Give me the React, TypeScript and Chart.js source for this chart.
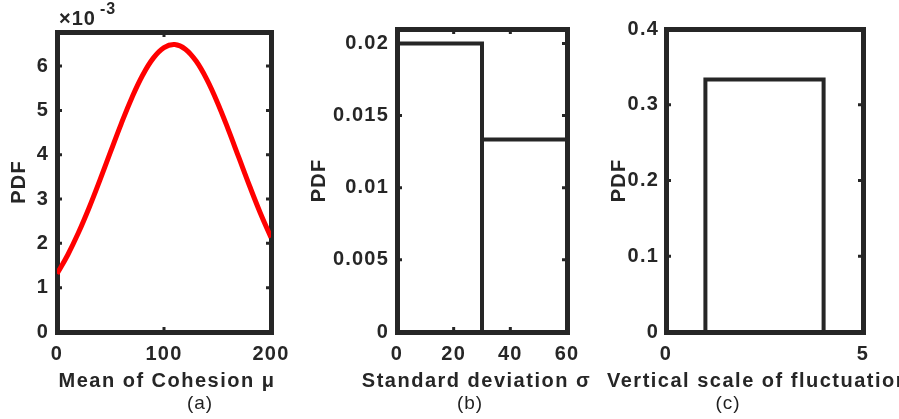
import React, { useEffect, useRef } from 'react';
import { Chart, registerables } from 'chart.js';

Chart.register(...registerables);

// ---------------- data ----------------
const cohesionMean = [0, 10, 20, 30, 40, 50, 60, 70, 80, 90, 100, 110, 120, 130, 140, 150, 160, 170, 180, 190, 200];
const cohesionPdf = [
  0.001314, 0.001738, 0.002238, 0.002804, 0.003421, 0.004063, 0.004698, 0.005288, 0.005794, 0.00618,
  0.006417, 0.006486, 0.006383, 0.006114, 0.005701, 0.005175, 0.004573, 0.003934, 0.003295, 0.002686, 0.002132,
];

const stdDevX = [0, 0, 30, 30, 30, 60, 60];
const stdDevPdf = [0, 0.02, 0.02, 0, 0.013333, 0.013333, 0];

const scaleFluctX = [0, 1, 1, 4, 4, 5];
const scaleFluctPdf = [0, 0, 0.333333, 0.333333, 0, 0];

const ticksAx = [0, 100, 200];
const labelsAx = ['0', '100', '200'];
const ticksAy = [0, 0.001, 0.002, 0.003, 0.004, 0.005, 0.006];
const labelsAy = ['0', '1', '2', '3', '4', '5', '6'];

const ticksBx = [0, 20, 40, 60];
const labelsBx = ['0', '20', '40', '60'];
const ticksBy = [0, 0.005, 0.01, 0.015, 0.02];
const labelsBy = ['0', '0.005', '0.01', '0.015', '0.02'];

const ticksCx = [0, 5];
const labelsCx = ['0', '5'];
const ticksCy = [0, 0.1, 0.2, 0.3, 0.4];
const labelsCy = ['0', '0.1', '0.2', '0.3', '0.4'];

const xTitles = ['Mean of Cohesion μ', 'Standard deviation σ', 'Vertical scale of fluctuation'];
const yTitle = 'PDF';
const panelTags = ['(a)', '(b)', '(c)'];

// ---------------- style ----------------
const FONT = "'Liberation Sans', Arial, Helvetica, sans-serif";
const AX = '#262626';
const SPACING = '1.2px';
const TITLE_SPACING = '1.5px';
const tickFont = { family: FONT, size: 20, weight: 'bold' as const };

const spacingPlugin = {
  id: 'spacing',
  beforeLayout(c: any) { c.ctx.letterSpacing = SPACING; },
  beforeDraw(c: any) { c.ctx.letterSpacing = SPACING; },
};

const inTicksPlugin = {
  id: 'inTicks',
  afterDraw(c: any) {
    const { ctx, chartArea } = c;
    const { left, right, top, bottom } = chartArea;
    const xs = c.scales.x;
    const ys = c.scales.y;
    const L = 5;
    ctx.save();
    ctx.strokeStyle = AX;
    ctx.lineWidth = 3;
    ctx.beginPath();
    for (const t of xs.ticks) {
      const px = xs.getPixelForValue(t.value);
      if (px <= left + 3 || px >= right - 3) continue;
      ctx.moveTo(px, bottom); ctx.lineTo(px, bottom - L);
      ctx.moveTo(px, top); ctx.lineTo(px, top + L);
    }
    for (const t of ys.ticks) {
      const py = ys.getPixelForValue(t.value);
      if (py <= top + 3 || py >= bottom - 3) continue;
      ctx.moveTo(left, py); ctx.lineTo(left + L, py);
      ctx.moveTo(right, py); ctx.lineTo(right - L, py);
    }
    ctx.stroke();
    ctx.restore();
  },
};

const xTitlePlugin = {
  id: 'xTitle',
  afterDraw(c: any, _args: any, opts: any) {
    const ctx = c.ctx;
    ctx.save();
    ctx.letterSpacing = TITLE_SPACING;
    ctx.font = `bold 20px ${FONT}`;
    ctx.fillStyle = AX;
    ctx.textAlign = opts.align;
    ctx.textBaseline = 'alphabetic';
    ctx.fillText(opts.text, opts.x, opts.y);
    ctx.restore();
  },
};

const exponentPlugin = {
  id: 'exponent',
  afterDraw(c: any, _args: any, opts: any) {
    if (!opts || !opts.show) return;
    const ctx = c.ctx;
    const left = c.chartArea.left;
    ctx.save();
    ctx.letterSpacing = '1px';
    ctx.fillStyle = AX;
    ctx.textAlign = 'left';
    ctx.textBaseline = 'alphabetic';
    ctx.font = `bold 20px ${FONT}`;
    ctx.fillText('×10', left + 2, 25);
    ctx.font = `bold 16px ${FONT}`;
    ctx.fillText('-3', left + 43, 14);
    ctx.restore();
  },
};

interface PanelSpec {
  xs: number[]; ys: number[]; color: string; lineWidth: number; tension: number;
  xMin: number; xMax: number; yMin: number; yMax: number;
  xTicks: number[]; xLabels: string[]; yTicks: number[]; yLabels: string[];
  xTitle: string; titleX: number; titleAlign: string;
  canvasLeft: number; canvasWidth: number;
  leftW: number; topH: number; rightW: number; bottomH: number; yPad: number;
  exponent: boolean;
}

const H = 419;

function Panel({ spec }: { spec: PanelSpec }) {
  const ref = useRef<HTMLCanvasElement>(null);
  useEffect(() => {
    const s = spec;
    const chart = new Chart(ref.current as HTMLCanvasElement, {
      type: 'line',
      data: {
        datasets: [{
          data: s.xs.map((x, i) => ({ x, y: s.ys[i] })),
          borderColor: s.color,
          borderWidth: s.lineWidth,
          pointRadius: 0,
          tension: s.tension,
          fill: false,
          borderJoinStyle: 'miter',
          borderCapStyle: 'butt',
        } as any],
      },
      options: {
        responsive: false,
        animation: false,
        devicePixelRatio: 1,
        events: [],
        layout: { padding: 0 },
        plugins: {
          legend: { display: false },
          tooltip: { enabled: false },
          xTitle: { text: s.xTitle, x: s.titleX, y: 387, align: s.titleAlign },
          exponent: { show: s.exponent },
        } as any,
        scales: {
          x: {
            type: 'linear', position: 'bottom', min: s.xMin, max: s.xMax,
            afterBuildTicks: (sc: any) => { sc.ticks = s.xTicks.map((v) => ({ value: v })); },
            afterFit: (sc: any) => { sc.height = s.bottomH; },
            ticks: {
              autoSkip: false, maxRotation: 0, minRotation: 0, padding: 10,
              font: tickFont, color: AX,
              callback: (_v: any, i: number) => s.xLabels[i],
            },
            grid: { display: false, drawTicks: false, lineWidth: 5 },
            border: { display: true, width: 5, color: AX },
          },
          y: {
            type: 'linear', position: 'left', min: s.yMin, max: s.yMax,
            afterBuildTicks: (sc: any) => { sc.ticks = s.yTicks.map((v) => ({ value: v })); },
            afterFit: (sc: any) => { sc.width = s.leftW; },
            ticks: {
              autoSkip: false, padding: s.yPad, font: tickFont, color: AX,
              callback: (_v: any, i: number) => s.yLabels[i],
            },
            grid: { display: false, drawTicks: false, lineWidth: 5 },
            border: { display: true, width: 5, color: AX },
            title: { display: true, text: yTitle, font: tickFont, color: AX, padding: { top: 7, bottom: 0 } },
          },
          x2: {
            type: 'linear', position: 'top', display: true, min: s.xMin, max: s.xMax,
            afterFit: (sc: any) => { sc.height = s.topH; },
            ticks: { display: false },
            grid: { display: false, drawTicks: false, lineWidth: 5 },
            border: { display: true, width: 5, color: AX },
          },
          y2: {
            type: 'linear', position: 'right', display: true, min: s.yMin, max: s.yMax,
            afterFit: (sc: any) => { sc.width = s.rightW; },
            ticks: { display: false },
            grid: { display: false, drawTicks: false, lineWidth: 5 },
            border: { display: true, width: 5, color: AX },
          },
        } as any,
      },
      plugins: [spacingPlugin, inTicksPlugin, xTitlePlugin, exponentPlugin],
    });
    return () => chart.destroy();
  }, [spec]);
  return (
    <canvas
      ref={ref}
      width={spec.canvasWidth}
      height={H}
      style={{ position: 'absolute', left: spec.canvasLeft, top: 0, width: spec.canvasWidth, height: H }}
    />
  );
}

const panels: PanelSpec[] = [
  {
    xs: cohesionMean, ys: cohesionPdf, color: '#ff0000', lineWidth: 5, tension: 0.4,
    xMin: 0, xMax: 200, yMin: 0, yMax: 0.00677,
    xTicks: ticksAx, xLabels: labelsAx, yTicks: ticksAy, yLabels: labelsAy,
    xTitle: xTitles[0], titleX: 167, titleAlign: 'center',
    canvasLeft: 0, canvasWidth: 300, leftW: 57, topH: 32, rightW: 29, bottomH: 87, yPad: 8, exponent: true,
  },
  {
    xs: stdDevX, ys: stdDevPdf, color: AX, lineWidth: 4, tension: 0,
    xMin: 0, xMax: 60, yMin: 0, yMax: 0.021,
    xTicks: ticksBx, xLabels: labelsBx, yTicks: ticksBy, yLabels: labelsBy,
    xTitle: xTitles[1], titleX: 176.5, titleAlign: 'center',
    canvasLeft: 300, canvasWidth: 300, leftW: 97, topH: 29, rightW: 33, bottomH: 87, yPad: 8, exponent: false,
  },
  {
    xs: scaleFluctX, ys: scaleFluctPdf, color: AX, lineWidth: 4, tension: 0,
    xMin: 0, xMax: 5, yMin: 0, yMax: 0.4,
    xTicks: ticksCx, xLabels: labelsCx, yTicks: ticksCy, yLabels: labelsCy,
    xTitle: xTitles[2], titleX: 7, titleAlign: 'left',
    canvasLeft: 600, canvasWidth: 299, leftW: 66, topH: 29, rightW: 36, bottomH: 87, yPad: 7, exponent: false,
  },
];

const tagCenters = [200, 470, 728];

export default function App() {
  return (
    <div style={{ position: 'fixed', left: 0, top: 0, width: 899, height: H, background: '#fff', overflow: 'hidden' }}>
      {panels.map((p, i) => <Panel key={i} spec={p} />)}
      {panelTags.map((t, i) => (
        <div
          key={t}
          style={{
            position: 'absolute', left: tagCenters[i], top: 393, transform: 'translateX(-50%)',
            font: `19px ${FONT}`, lineHeight: '19px', letterSpacing: '1px', color: '#1f1f1f', whiteSpace: 'nowrap',
          }}
        >
          {t}
        </div>
      ))}
    </div>
  );
}
